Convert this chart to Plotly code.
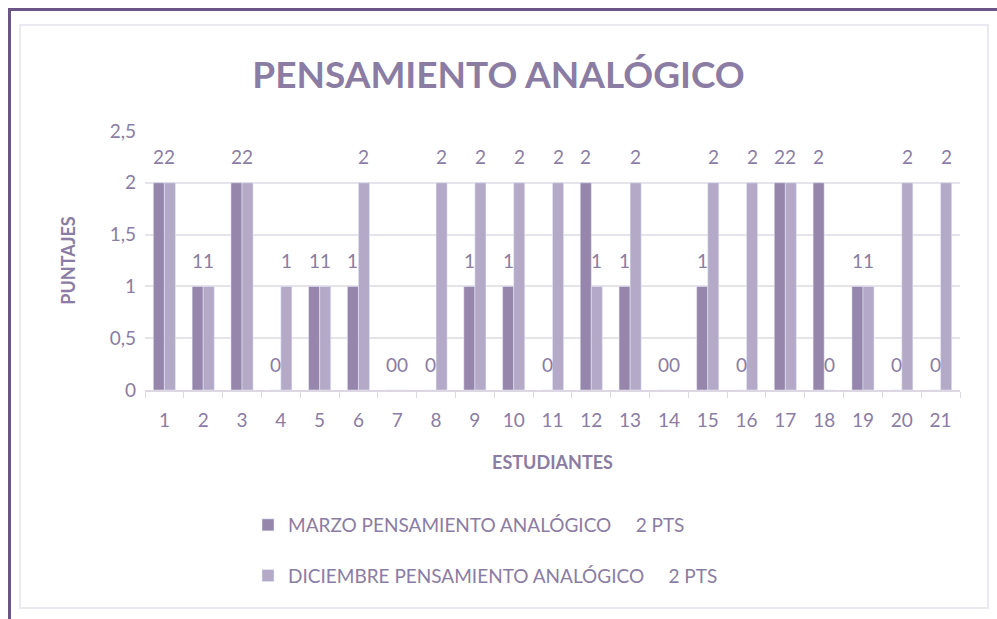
import plotly.graph_objects as go

estudiantes = [str(i) for i in range(1, 22)]
marzo = [2, 1, 2, 0, 1, 1, 0, 0, 1, 1, 0, 2, 1, 0, 1, 0, 2, 2, 1, 0, 0]
diciembre = [2, 1, 2, 1, 1, 2, 0, 2, 2, 2, 2, 1, 2, 0, 2, 2, 2, 0, 1, 2, 2]
series_names = ["MARZO PENSAMIENTO ANALÓGICO     2 PTS",
                "DICIEMBRE PENSAMIENTO ANALÓGICO     2 PTS"]
y_ticks = [0, 0.5, 1, 1.5, 2, 2.5]

W, H = 997, 619
L, R, T, B = 145, 37, 131, 229
PW, PH = W - L - R, H - T - B

def px(x):
    return (x - L) / PW

def py(y):
    return (H - B - y) / PH

FONT = "Lato"
TXT = "#8b7ca3"
C1 = "#9686ac"
C2 = "#b4aac8"

fig = go.Figure()
fig.add_trace(go.Bar(x=estudiantes, y=marzo, name=series_names[0],
                     marker_color=C1, legendgroup="a"))
fig.add_trace(go.Bar(x=estudiantes, y=diciembre, name=series_names[1],
                     marker_color=C2, legendgroup="b"))

annotations = []
for vals, sh in ((marzo, -5.5), (diciembre, 5.5)):
    for idx, v in enumerate(vals):
        annotations.append(dict(x=idx, y=v, xref="x", yref="y", text=str(v),
                                showarrow=False, xshift=sh, yshift=26,
                                font=dict(family=FONT, size=19, color=TXT)))

shapes = [
    dict(type="rect", xref="paper", yref="paper",
         x0=px(20), x1=px(988), y0=py(608), y1=py(25),
         line=dict(color="#ebe8f1", width=2), layer="below"),
    dict(type="line", xref="paper", yref="paper",
         x0=px(8), x1=px(997), y0=py(9.5), y1=py(9.5),
         line=dict(color="#6a5586", width=3)),
    dict(type="line", xref="paper", yref="paper",
         x0=px(9.5), x1=px(9.5), y0=py(8), y1=py(619),
         line=dict(color="#6a5586", width=3)),
]

fig.update_layout(
    width=W, height=H,
    margin=dict(l=L, r=R, t=T, b=B),
    paper_bgcolor="white", plot_bgcolor="white",
    separators=",.",
    barmode="group", bargap=0.43, bargroupgap=0,
    title=dict(text="<b>PENSAMIENTO ANALÓGICO</b>", x=0.5, xref="container",
               xanchor="center", y=1 - 75 / H, yanchor="middle",
               font=dict(family=FONT, size=37, color=TXT)),
    xaxis=dict(type="category", showgrid=False, showline=True,
               range=[-0.5, 20.5],
               linecolor="#dcd7e3", linewidth=1.5, ticks="outside",
               tickson="boundaries", ticklen=6, tickcolor="#dcd7e3",
               ticklabelstandoff=12,
               tickfont=dict(family=FONT, size=19, color=TXT),
               title=dict(text="<b>ESTUDIANTES</b>", standoff=27,
                          font=dict(family=FONT, size=18, color=TXT))),
    yaxis=dict(range=[0, 2.5], tickvals=y_ticks, showgrid=True,
               gridcolor="#e7e3ed", gridwidth=1.5, zeroline=False,
               showline=False, ticks="", ticklabelstandoff=8,
               tickfont=dict(family=FONT, size=19, color=TXT),
               title=dict(text="<b>PUNTAJES</b>", standoff=29,
                          font=dict(family=FONT, size=18, color=TXT))),
    legend=dict(x=px(248), y=py(506), xanchor="left", yanchor="top",
                orientation="v", traceorder="grouped", tracegroupgap=23,
                font=dict(family=FONT, size=19, color=TXT),
                itemwidth=30, bgcolor="rgba(0,0,0,0)"),
    annotations=annotations,
    shapes=shapes,
    showlegend=True,
)

fig.write_html("out.html", config={"displayModeBar": False},
               post_script="document.body.style.margin='0';document.body.style.padding='0';")
